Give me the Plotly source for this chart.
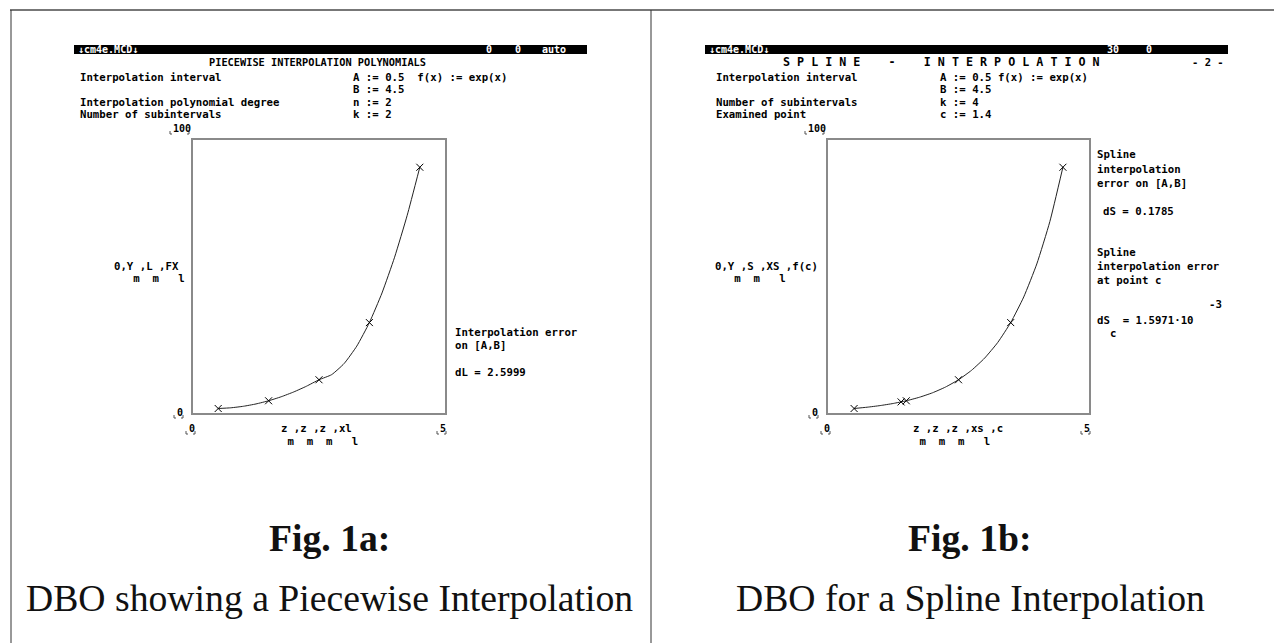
import plotly.graph_objects as go

W, H = 1282, 643

# ---------------- data ----------------
# Fig 1a: piecewise quadratic interpolation of exp(x) on [0.5, 4.5], k = 2
a_nodes_x = [0.5, 1.5, 2.5, 3.5, 4.5]
a_nodes_y = [1.65, 4.48, 12.18, 33.12, 90.02]
a_curve_x = [0.5, 0.75, 1.0, 1.25, 1.5, 1.75, 2.0, 2.25, 2.5,
             2.75, 3.0, 3.25, 3.5, 3.75, 4.0, 4.25, 4.5]
a_curve_y = [1.65, 1.90, 2.46, 3.32, 4.48, 5.95, 7.72, 9.80, 12.18,
             14.04, 18.15, 24.51, 33.12, 43.97, 57.07, 72.42, 90.02]

# Fig 1b: cubic spline interpolation of exp(x), k = 4, examined point c = 1.4
b_nodes_x = [0.5, 1.4, 1.5, 2.5, 3.5, 4.5]
b_nodes_y = [1.65, 4.06, 4.48, 12.18, 33.12, 90.02]
b_curve_x = [0.5, 0.75, 1.0, 1.25, 1.5, 1.75, 2.0, 2.25, 2.5,
             2.75, 3.0, 3.25, 3.5, 3.75, 4.0, 4.25, 4.5]
b_curve_y = [1.65, 2.12, 2.72, 3.49, 4.48, 5.76, 7.39, 9.49, 12.18,
             15.64, 20.09, 25.79, 33.12, 42.52, 54.60, 70.11, 90.02]

x_range = [0, 5]
y_range = [0, 100]

# ---------------- helpers ----------------
def px(x):
    return x / W

def py(y):
    return 1 - y / H

MONO = "DejaVu Sans Mono"
FS = 10.7
annotations = []
shapes = []

def txt(x, y, s, size=FS, color="black", anchor="left", weight=700, family=MONO):
    annotations.append(dict(
        x=px(x), y=py(y), xref="paper", yref="paper", text=s, showarrow=False,
        xanchor=anchor, yanchor="middle",
        font=dict(family=family, size=size, color=color, weight=weight),
    ))

def bracket(x0, x1, y):
    # small Mathcad style corner marks beneath a limit label
    c = "#555555"
    for xa, xb in ((x0, x0 + 2), (x1, x1 - 2)):
        shapes.append(dict(type="path", xref="paper", yref="paper",
                           path=f"M {px(xa)},{py(y-3)} L {px(xa)},{py(y)} L {px(xb)},{py(y)}",
                           line=dict(color=c, width=1)))

# ---------------- figure ----------------
fig = go.Figure()

line_col = "#222222"
fig.add_trace(go.Scatter(x=a_curve_x, y=a_curve_y, mode="lines",
                         line=dict(color=line_col, width=1, shape="spline", smoothing=0.5),
                         xaxis="x", yaxis="y", showlegend=False, hoverinfo="skip"))
fig.add_trace(go.Scatter(x=a_nodes_x, y=a_nodes_y, mode="markers",
                         marker=dict(symbol="x-thin", size=7, line=dict(color="black", width=1)),
                         xaxis="x", yaxis="y", showlegend=False))
fig.add_trace(go.Scatter(x=b_curve_x, y=b_curve_y, mode="lines",
                         line=dict(color=line_col, width=1, shape="spline", smoothing=0.5),
                         xaxis="x2", yaxis="y2", showlegend=False, hoverinfo="skip"))
fig.add_trace(go.Scatter(x=b_nodes_x, y=b_nodes_y, mode="markers",
                         marker=dict(symbol="x-thin", size=7, line=dict(color="black", width=1)),
                         xaxis="x2", yaxis="y2", showlegend=False))

axis_common = dict(showgrid=False, zeroline=False, showline=True, mirror=True,
                   linecolor="#8a8a8a", linewidth=2, ticks="", showticklabels=False,
                   fixedrange=True)

# plot boxes (pixel positions of the frames)
A_L, A_R, A_T, A_B = 185, 437, 132, 405
B_L, B_R, B_T, B_B = 820, 1081, 132, 405

fig.update_layout(
    width=W, height=H,
    margin=dict(l=0, r=0, t=0, b=0),
    paper_bgcolor="white", plot_bgcolor="white",
    xaxis=dict(domain=[px(A_L), px(A_R)], range=x_range, anchor="y", **axis_common),
    yaxis=dict(domain=[py(A_B), py(A_T)], range=y_range, anchor="x", **axis_common),
    xaxis2=dict(domain=[px(B_L), px(B_R)], range=x_range, anchor="y2", **axis_common),
    yaxis2=dict(domain=[py(B_B), py(B_T)], range=y_range, anchor="x2", **axis_common),
)

# ---------------- page frame ----------------
frame = dict(color="#333333", width=1)
shapes.append(dict(type="line", xref="paper", yref="paper", x0=px(2), x1=px(1280), y0=py(2), y1=py(2),
                   line=dict(color="#777777", width=2)))
shapes.append(dict(type="line", xref="paper", yref="paper", x0=px(3), x1=px(3), y0=py(2), y1=py(643), line=frame))
shapes.append(dict(type="line", xref="paper", yref="paper", x0=px(643), x1=px(643), y0=py(2), y1=py(643), line=frame))
shapes.append(dict(type="line", xref="paper", yref="paper", x0=px(1280), x1=px(1280), y0=py(2), y1=py(643), line=frame))

# ---------------- header bars ----------------
for x0, x1 in ((66, 579), (697, 1220)):
    shapes.append(dict(type="rect", xref="paper", yref="paper", x0=px(x0), x1=px(x1),
                       y0=py(46), y1=py(37), fillcolor="black", line=dict(width=0)))

ROW_BAR, ROW_T, R1, R2, R3, R4 = 41.5, 54, 69, 81, 94, 106

# ----- left panel text -----
txt(68, ROW_BAR, "↓cm4e.MCD↓", size=10, color="white")
txt(476, ROW_BAR, "0", size=10, color="white")
txt(505, ROW_BAR, "0", size=10, color="white")
txt(532, ROW_BAR, "auto", size=10, color="white")
txt(309, ROW_T, "PIECEWISE INTERPOLATION POLYNOMIALS", size=10.3, anchor="center")
txt(70, R1, "Interpolation interval")
txt(343, R1, "A := 0.5  f(x) := exp(x)")
txt(343, R2, "B := 4.5")
txt(70, R3, "Interpolation polynomial degree")
txt(343, R3, "n := 2")
txt(70, R4, "Number of subintervals")
txt(343, R4, "k := 2")

# ----- right panel text -----
txt(699, ROW_BAR, "↓cm4e.MCD↓", size=10, color="white")
txt(1097, ROW_BAR, "30", size=10, color="white")
txt(1136, ROW_BAR, "0", size=10, color="white")
txt(773, ROW_T, "S P L I N E    -    I N T E R P O L A T I O N", size=11.7)
txt(1182, ROW_T, "- 2 -", size=10.5)
txt(706, R1, "Interpolation interval")
txt(930, R1, "A := 0.5 f(x) := exp(x)")
txt(930, R2, "B := 4.5")
txt(706, R3, "Number of subintervals")
txt(930, R3, "k := 4")
txt(706, R4, "Examined point")
txt(930, R4, "c := 1.4")

# ----- axis limit labels -----
for (L, R, T, B, ylab, ylab_x, xlab, xlab_x) in (
        (A_L, A_R, A_T, A_B, "0,Y ,L ,FX", 104, "z ,z ,z ,xl", 271),
        (B_L, B_R, B_T, B_B, "0,Y ,S ,XS ,f(c)", 705, "z ,z ,z ,xs ,c", 903)):
    txt(L - 22, T - 11, "100", size=10)
    bracket(L - 23, L - 4, T - 6)
    txt(L - 18, B - 1, "0", size=10)
    bracket(L - 19, L - 10, B + 5)
    txt(L - 6, B + 15, "0", size=10)
    bracket(L - 7, L + 2, B + 21)
    txt(R - 7, B + 15, "5", size=10)
    bracket(R - 8, R + 1, B + 21)
    txt(ylab_x, 258, ylab)
    txt(ylab_x, 270, "   m  m   l")
    txt(xlab_x, 420, xlab)
    txt(xlab_x, 433, " m  m  m   l")

# ----- error annotations -----
txt(445, 324, "Interpolation error")
txt(445, 337, "on [A,B]")
txt(445, 365, "dL = 2.5999")

RX = 1087
txt(RX, 147, "Spline")
txt(RX, 161, "interpolation")
txt(RX, 175, "error on [A,B]")
txt(RX + 6, 203, "dS = 0.1785")
txt(RX, 244, "Spline")
txt(RX, 258, "interpolation error")
txt(RX, 272, "at point c")
txt(1199, 297, "-3")
txt(RX, 312, "dS  = 1.5971·10")
txt(RX + 13, 325, "c")

# ----- captions -----
SERIF = "Liberation Serif"
txt(321, 530, "Fig. 1a:", size=37.7, anchor="center", weight=700, family=SERIF, color="#111111")
txt(321, 590, "DBO showing a Piecewise Interpolation", size=37.7, anchor="center", weight=400,
    family=SERIF, color="#111111")
txt(962, 530, "Fig. 1b:", size=37.7, anchor="center", weight=700, family=SERIF, color="#111111")
txt(962, 590, "DBO for a Spline Interpolation", size=37.7, anchor="center", weight=400,
    family=SERIF, color="#111111")

fig.update_layout(annotations=annotations, shapes=shapes)
fig.write_html("out.html")
